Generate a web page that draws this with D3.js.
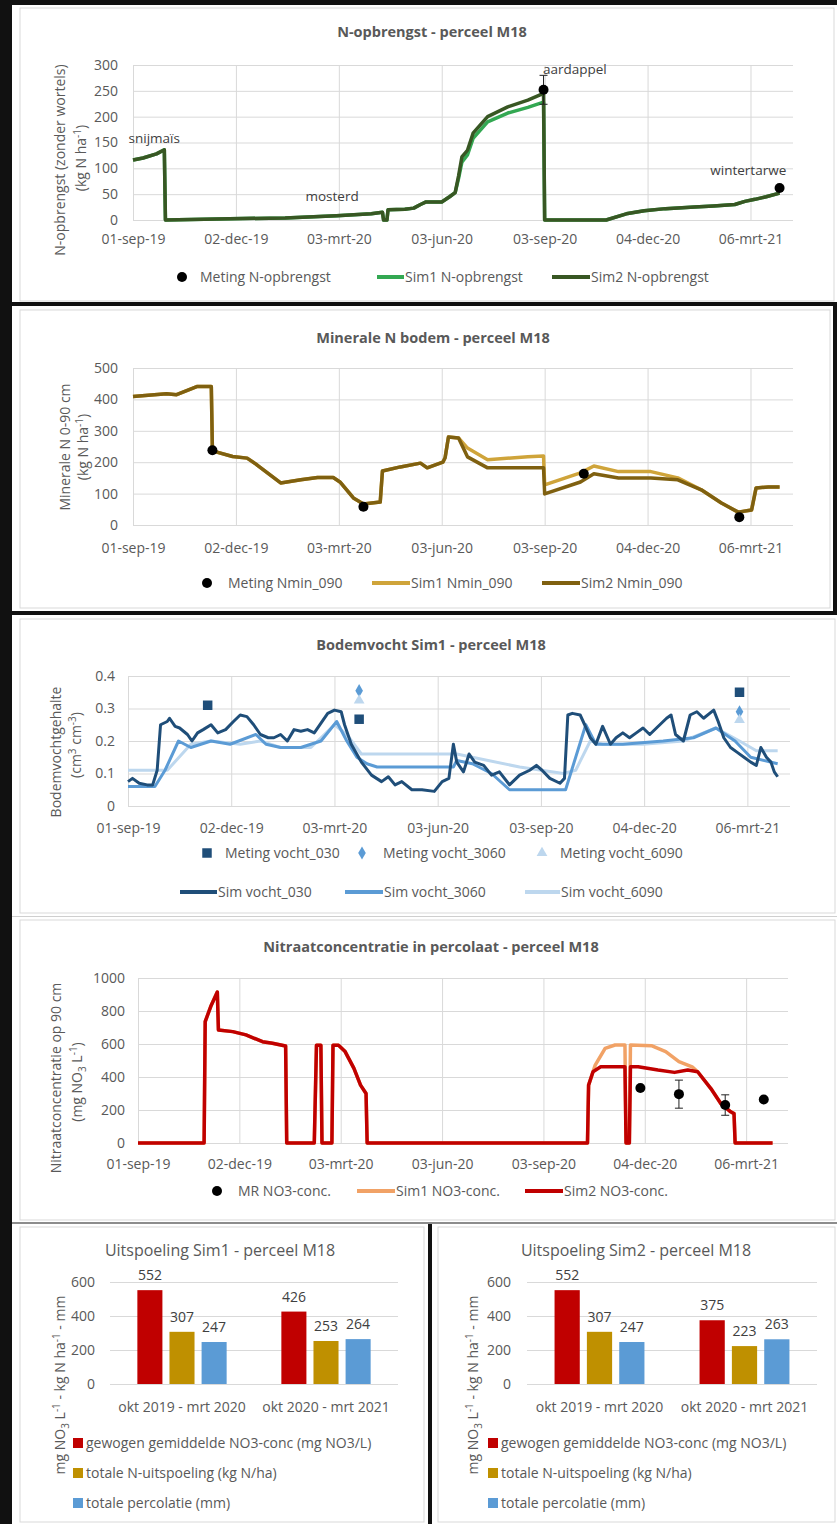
<!DOCTYPE html>
<meta charset="utf-8">
<head>
	<title>Perceel M18 - N-opbrengst, Nmin, bodemvocht, nitraat, uitspoeling</title>
</head>

<style>

body{
	margin: 0;
	background-color: #fff;
}

svg{
	display: block;
	font-family: "Open Sans", "Noto Sans", sans-serif;
}

.grid line{
	stroke: #d9d9d9;
	stroke-width: 1;
}

.grid text, .lbl{
	fill: #595959;
	font-size: 14px;
}

.title{
	fill: #595959;
	font-size: 14.5px;
	font-weight: bold;
}

.btitle{
	fill: #595959;
	font-size: 16px;
}

.note{
	fill: #404040;
	font-size: 13.5px;
}

</style>

<body>

<svg id="chart" width="837" height="1524"></svg>

<script src="https://cdnjs.cloudflare.com/ajax/libs/d3/7.8.5/d3.min.js"></script>
<script>

// ---- gemeenschappelijke datum-as ----
var monthsNL = ['jan', 'feb', 'mrt', 'apr', 'mei', 'jun', 'jul', 'aug', 'sep', 'okt', 'nov', 'dec'];
var dateTicks = ['2019-09-01', '2019-12-02', '2020-03-03', '2020-06-03', '2020-09-03', '2020-12-04', '2021-03-06'];
var dateStart = '2019-09-01';
var dateEnd = '2021-04-13';

// ---- N-opbrengst ----
var nOpbrSim1 = [
	['2019-09-01',116],['2019-09-10',120],['2019-09-22',128],['2019-09-29',136],['2019-09-30',0],['2019-11-15',2],
	['2020-01-15',4],['2020-03-01',8],['2020-04-01',12],['2020-04-11',15],['2020-04-12',0],['2020-04-15',0],
	['2020-04-16',20],['2020-05-01',21],['2020-05-09',23],['2020-05-15',30],['2020-05-20',35],['2020-06-03',35],
	['2020-06-10',45],['2020-06-15',53],['2020-06-18',80],['2020-06-21',112],['2020-06-26',126],['2020-07-01',158],
	['2020-07-14',190],['2020-08-01',207],['2020-08-19',218],['2020-09-02',228],['2020-09-03',0],['2020-10-28',0],
	['2020-11-15',12],['2020-12-01',18],['2020-12-20',22],['2021-01-15',25],['2021-02-01',27],['2021-02-20',30],
	['2021-03-01',36],['2021-03-10',40],['2021-03-20',45],['2021-04-01',52]
];
var nOpbrSim2 = [
	['2019-09-01',116],['2019-09-10',120],['2019-09-22',128],['2019-09-29',136],['2019-09-30',0],['2019-11-15',2],
	['2020-01-15',4],['2020-03-01',8],['2020-04-01',12],['2020-04-11',15],['2020-04-12',0],['2020-04-15',0],
	['2020-04-16',20],['2020-05-01',21],['2020-05-09',23],['2020-05-15',30],['2020-05-20',35],['2020-06-03',35],
	['2020-06-10',45],['2020-06-15',53],['2020-06-18',85],['2020-06-21',122],['2020-06-26',135],['2020-07-01',168],
	['2020-07-14',200],['2020-08-01',219],['2020-08-19',232],['2020-09-02',245],['2020-09-03',0],['2020-10-28',0],
	['2020-11-15',12],['2020-12-01',18],['2020-12-20',22],['2021-01-15',25],['2021-02-01',27],['2021-02-20',30],
	['2021-03-01',36],['2021-03-10',40],['2021-03-20',45],['2021-04-01',52]
];
// [datum, waarde, foutmarge]
var nOpbrMeting = [['2020-09-02',252,28], ['2021-04-01',62,0]];
var gewassen = [['snijmaïs','2019-09-20',150], ['mosterd','2020-02-26',36], ['aardappel','2020-09-30',283], ['wintertarwe','2021-03-04',88]];

// ---- Minerale N bodem ----
var nminSim1 = [
	['2019-09-01',409],['2019-10-01',418],['2019-10-10',415],['2019-10-28',441],['2019-11-10',441],['2019-11-11',236],
	['2019-11-29',218],['2019-12-12',213],['2019-12-21',191],['2020-01-11',134],['2020-01-29',144],['2020-02-13',151],
	['2020-02-27',151],['2020-03-04',137],['2020-03-16',86],['2020-03-25',67],['2020-04-09',73],['2020-04-11',172],
	['2020-04-27',185],['2020-05-15',197],['2020-05-21',182],['2020-06-04',200],['2020-06-06',214],['2020-06-09',280],
	['2020-06-18',277],['2020-06-26',245],['2020-07-14',208],['2020-08-19',217],['2020-09-02',220],['2020-09-03',128],
	['2020-10-05',166],['2020-10-17',188],['2020-11-08',170],['2020-12-07',170],['2020-12-31',150],['2021-01-21',112],
	['2021-02-08',70],['2021-02-23',41],['2021-03-07',48],['2021-03-11',118],['2021-03-22',121],['2021-04-01',121]
];
var nminSim2 = [
	['2019-09-01',409],['2019-10-01',418],['2019-10-10',415],['2019-10-28',441],['2019-11-10',441],['2019-11-11',236],
	['2019-11-29',218],['2019-12-12',213],['2019-12-21',191],['2020-01-11',134],['2020-01-29',144],['2020-02-13',151],
	['2020-02-27',151],['2020-03-04',137],['2020-03-16',86],['2020-03-25',67],['2020-04-09',73],['2020-04-11',172],
	['2020-04-27',185],['2020-05-15',197],['2020-05-21',182],['2020-06-04',200],['2020-06-06',214],['2020-06-09',280],
	['2020-06-18',277],['2020-06-26',217],['2020-07-14',182],['2020-08-19',182],['2020-09-02',182],['2020-09-03',99],
	['2020-10-05',137],['2020-10-17',163],['2020-11-08',150],['2020-12-07',150],['2020-12-31',144],['2021-01-21',112],
	['2021-02-08',70],['2021-02-23',41],['2021-03-07',48],['2021-03-11',118],['2021-03-22',121],['2021-04-01',121]
];
var nminMeting = [['2019-11-11',238,0], ['2020-03-25',58,0], ['2020-10-08',163,0], ['2021-02-24',25,0]];

// ---- Bodemvocht Sim1 ----
var vocht030 = [
	['2019-09-01',0.075],['2019-09-05',0.085],['2019-09-11',0.07],['2019-09-18',0.065],['2019-09-23',0.065],['2019-09-27',0.11],
	['2019-09-30',0.25],['2019-10-06',0.26],['2019-10-08',0.27],['2019-10-13',0.245],['2019-10-17',0.24],['2019-10-24',0.22],
	['2019-10-28',0.2],['2019-11-02',0.225],['2019-11-07',0.235],['2019-11-14',0.25],['2019-11-20',0.225],['2019-11-27',0.235],
	['2019-12-04',0.26],['2019-12-10',0.28],['2019-12-16',0.275],['2019-12-22',0.25],['2019-12-28',0.22],['2020-01-04',0.21],
	['2020-01-09',0.21],['2020-01-15',0.22],['2020-01-21',0.2],['2020-01-27',0.235],['2020-02-02',0.23],['2020-02-08',0.235],
	['2020-02-14',0.225],['2020-02-20',0.255],['2020-02-26',0.285],['2020-03-03',0.295],['2020-03-09',0.29],['2020-03-12',0.25],
	['2020-03-18',0.19],['2020-03-27',0.135],['2020-04-05',0.095],['2020-04-14',0.075],['2020-04-20',0.09],['2020-04-26',0.065],
	['2020-05-02',0.075],['2020-05-11',0.05],['2020-05-20',0.05],['2020-05-31',0.045],['2020-06-07',0.075],['2020-06-13',0.085],
	['2020-06-17',0.19],['2020-06-20',0.135],['2020-06-26',0.105],['2020-07-01',0.16],['2020-07-06',0.135],['2020-07-14',0.125],
	['2020-07-21',0.095],['2020-07-28',0.105],['2020-08-06',0.065],['2020-08-15',0.095],['2020-08-24',0.11],['2020-08-30',0.125],
	['2020-09-04',0.11],['2020-09-11',0.085],['2020-09-20',0.07],['2020-09-24',0.085],['2020-09-27',0.28],['2020-10-01',0.285],
	['2020-10-08',0.28],['2020-10-12',0.25],['2020-10-17',0.21],['2020-10-22',0.19],['2020-10-28',0.245],['2020-11-04',0.19],
	['2020-11-09',0.21],['2020-11-15',0.225],['2020-11-21',0.21],['2020-11-27',0.225],['2020-12-03',0.24],['2020-12-09',0.22],
	['2020-12-15',0.24],['2020-12-24',0.27],['2020-12-28',0.28],['2021-01-01',0.22],['2021-01-08',0.2],['2021-01-14',0.28],
	['2021-01-20',0.29],['2021-01-26',0.27],['2021-02-04',0.295],['2021-02-08',0.26],['2021-02-13',0.21],['2021-02-19',0.18],
	['2021-02-25',0.165],['2021-03-03',0.15],['2021-03-09',0.135],['2021-03-14',0.125],['2021-03-18',0.18],['2021-03-23',0.15],
	['2021-03-27',0.135],['2021-03-30',0.105],['2021-04-02',0.09]
];
var vocht3060 = [
	['2019-09-01',0.06],['2019-09-25',0.06],['2019-10-04',0.11],['2019-10-16',0.2],['2019-10-27',0.18],['2019-11-14',0.2],
	['2019-12-01',0.19],['2019-12-24',0.22],['2020-01-02',0.19],['2020-01-15',0.18],['2020-02-02',0.18],['2020-02-20',0.2],
	['2020-03-05',0.26],['2020-03-14',0.2],['2020-03-23',0.15],['2020-04-01',0.13],['2020-04-10',0.12],['2020-06-17',0.12],
	['2020-06-20',0.14],['2020-07-04',0.13],['2020-07-21',0.1],['2020-08-06',0.05],['2020-09-25',0.05],['2020-10-13',0.25],
	['2020-10-22',0.19],['2020-11-15',0.19],['2020-12-21',0.2],['2021-01-17',0.21],['2021-02-06',0.24],['2021-02-23',0.2],
	['2021-03-09',0.15],['2021-04-02',0.13]
];
var vocht6090 = [
	['2019-09-01',0.11],['2019-10-06',0.11],['2019-10-27',0.19],['2019-11-14',0.2],['2019-12-10',0.19],['2019-12-28',0.2],
	['2020-01-15',0.18],['2020-02-11',0.18],['2020-03-03',0.25],['2020-03-14',0.22],['2020-03-27',0.16],['2020-06-20',0.16],
	['2020-08-15',0.12],['2020-09-23',0.1],['2020-10-04',0.11],['2020-10-17',0.2],['2020-10-28',0.19],['2020-12-03',0.19],
	['2021-01-08',0.2],['2021-02-06',0.24],['2021-02-27',0.2],['2021-03-14',0.17],['2021-04-02',0.17]
];
var vochtMeting030 = [['2019-11-11',0.31,0], ['2020-03-25',0.267,0], ['2021-02-27',0.35,0]];
var vochtMeting3060 = [['2020-03-25',0.355,0], ['2021-02-27',0.29,0]];
var vochtMeting6090 = [['2020-03-25',0.325,0], ['2021-02-27',0.265,0]];

// ---- Nitraatconcentratie ----
var no3Sim1 = [
	['2019-09-01',0],['2019-10-31',0],['2019-11-01',736],['2019-11-06',827],['2019-11-12',915],['2019-11-13',685],
	['2019-11-26',675],['2019-12-08',655],['2019-12-23',614],['2020-01-01',604],['2020-01-13',588],['2020-01-14',0],
	['2020-02-08',0],['2020-02-10',592],['2020-02-14',592],['2020-02-15',0],['2020-02-24',0],['2020-02-25',592],
	['2020-03-01',592],['2020-03-07',554],['2020-03-15',452],['2020-03-21',351],['2020-03-26',300],['2020-03-27',0],
	['2020-10-13',0],['2020-10-14',351],['2020-10-20',472],['2020-10-29',574],['2020-11-07',594],['2020-11-16',594],
	['2020-11-17',0],['2020-11-20',0],['2020-11-21',594],['2020-12-10',590],['2020-12-23',554],['2021-01-04',493],
	['2021-01-16',462],['2021-01-21',432],['2021-02-02',330],['2021-02-11',239],['2021-02-20',189],['2021-02-23',178],
	['2021-02-24',0],['2021-03-30',0]
];
var no3Sim2 = [
	['2019-09-01',0],['2019-10-31',0],['2019-11-01',736],['2019-11-06',827],['2019-11-12',915],['2019-11-13',685],
	['2019-11-26',675],['2019-12-08',655],['2019-12-23',614],['2020-01-01',604],['2020-01-13',588],['2020-01-14',0],
	['2020-02-08',0],['2020-02-10',592],['2020-02-14',592],['2020-02-15',0],['2020-02-24',0],['2020-02-25',592],
	['2020-03-01',592],['2020-03-07',554],['2020-03-15',452],['2020-03-21',351],['2020-03-26',300],['2020-03-27',0],
	['2020-10-13',0],['2020-10-14',351],['2020-10-18',432],['2020-10-25',462],['2020-11-16',462],['2020-11-17',0],
	['2020-11-20',0],['2020-11-21',462],['2020-11-28',462],['2020-12-16',442],['2020-12-31',428],['2021-01-12',442],
	['2021-01-21',432],['2021-02-02',330],['2021-02-11',239],['2021-02-20',189],['2021-02-23',178],['2021-02-24',0],
	['2021-03-30',0]
];
var no3Meting = [['2020-11-30',333,0], ['2021-01-04',296,85], ['2021-02-15',230,62], ['2021-03-22',264,0]];

// ---- Uitspoeling ----
var barCategories = ['okt 2019 - mrt 2020', 'okt 2020 - mrt 2021'];
var barSeries = ['gewogen gemiddelde NO3-conc (mg NO3/L)', 'totale N-uitspoeling (kg N/ha)', 'totale percolatie (mm)'];
var sim1Conc = [552, 426];
var sim1Uitsp = [307, 253];
var sim1Perc = [247, 264];
var sim2Conc = [552, 375];
var sim2Uitsp = [307, 223];
var sim2Perc = [247, 263];


var parseDate = d3.timeParse('%Y-%m-%d');
var svg = d3.select('#chart');

function fmtDate(d){
	return d3.timeFormat('%d')(d) + '-' + monthsNL[d.getMonth()] + '-' + d3.timeFormat('%y')(d);
}

// tekst met sub/superscript: parts = [[tekst, 'sup'|'sub'|null], ...]
function richText(el, parts){
	var shift = 0;
	parts.forEach(function(p){
		var want = p[1] === 'sup' ? -5 : (p[1] === 'sub' ? 4 : 0);
		var t = el.append('tspan').attr('dy', want - shift).text(p[0]);
		if (want) t.style('font-size', '10px');
		shift = want;
	});
}

function axisTitle(x, y, parts){
	var t = svg.append('text').attr('class', 'lbl')
		.attr('text-anchor', 'middle')
		.attr('transform', 'translate(' + x + ',' + y + ') rotate(-90)');
	richText(t, parts);
}

// ---- achtergrond en kaders ----
svg.append('rect').attr('width', 837).attr('height', 1524).attr('fill', '#fff');
[[20,8,814,293], [20,310,810,298], [20,619,815,294], [20,920,815,300], [20,1227,404,295], [438,1227,397,295]].forEach(function(r){
	svg.append('rect').attr('x', r[0]).attr('y', r[1]).attr('width', r[2]).attr('height', r[3])
		.attr('fill', '#fff').attr('stroke', '#d9d9d9');
});
[[0,0,837,5], [0,0,12,1524], [12,302,825,4], [833,302,4,312], [12,611,825,4], [428,1224,4,300]].forEach(function(r){
	svg.append('rect').attr('x', r[0]).attr('y', r[1]).attr('width', r[2]).attr('height', r[3]).attr('fill', '#111');
});
svg.append('rect').attr('x', 12).attr('y', 916).attr('width', 825).attr('height', 1).attr('fill', '#cfcfcf');
svg.append('rect').attr('x', 12).attr('y', 1222).attr('width', 825).attr('height', 2).attr('fill', '#8c8c8c');


function drawMarker(g, type, cx, cy, color){
	if (type === 'dot') {
		g.append('circle').attr('cx', cx).attr('cy', cy).attr('r', 5).attr('fill', color);
		return;
	}
	var sym = {square: d3.symbolSquare, diamond: d3.symbolDiamond, triangle: d3.symbolTriangle}[type];
	var size = {square: 90, diamond: 50, triangle: 50}[type];
	g.append('path').attr('d', d3.symbol().type(sym).size(size)())
		.attr('transform', 'translate(' + cx + ',' + cy + ')').attr('fill', color);
}

function drawTimePanel(p){
	var x = d3.scaleTime().domain([parseDate(dateStart), parseDate(dateEnd)]).range([p.left, p.right]);
	var y = d3.scaleLinear().domain(p.yDomain).range([p.bottom, p.top]);
	var g = svg.append('g');

	g.append('g').attr('class', 'grid')
		.attr('transform', 'translate(' + p.left + ',0)')
		.call(d3.axisLeft(y).tickValues(p.yTicks).tickSize(-(p.right - p.left)).tickPadding(p.left - p.yLabelX)
			.tickFormat(p.yFormat || d3.format('d')))
		.call(function(a){ a.select('.domain').remove(); a.attr('font-family', null).attr('font-size', null); });

	g.append('g').attr('class', 'grid')
		.attr('transform', 'translate(0,' + p.bottom + ')')
		.call(d3.axisBottom(x).tickValues(dateTicks.map(parseDate)).tickSize(-(p.bottom - p.top)).tickFormat(fmtDate))
		.call(function(a){
			a.select('.domain').remove();
			a.attr('font-family', null).attr('font-size', null);
			a.selectAll('text').attr('y', p.xLabelY - p.bottom).attr('dy', '0.35em');
		});

	var line = d3.line()
		.x(function(d){ return x(parseDate(d[0])); })
		.y(function(d){ return y(d[1]); });

	p.series.forEach(function(s){
		g.append('path').datum(s.data)
			.attr('fill', 'none')
			.attr('stroke', s.color)
			.attr('stroke-width', s.width || 3.5)
			.attr('stroke-linejoin', 'round')
			.attr('d', line);
	});

	(p.points || []).forEach(function(m){
		m.data.forEach(function(d){
			var cx = x(parseDate(d[0])), cy = y(d[1]);
			if (d[2]) {
				var y1 = y(d[1] + d[2]), y2 = y(d[1] - d[2]);
				g.append('line').attr('x1', cx).attr('x2', cx).attr('y1', y1).attr('y2', y2).attr('stroke', '#222').attr('stroke-width', 1);
				g.append('line').attr('x1', cx - 4).attr('x2', cx + 4).attr('y1', y1).attr('y2', y1).attr('stroke', '#222').attr('stroke-width', 1);
				g.append('line').attr('x1', cx - 4).attr('x2', cx + 4).attr('y1', y2).attr('y2', y2).attr('stroke', '#222').attr('stroke-width', 1);
			}
			drawMarker(g, m.type, cx, cy, m.color);
		});
	});

	(p.notes || []).forEach(function(n){
		g.append('text').attr('class', 'note')
			.attr('x', x(parseDate(n[1]))).attr('y', y(n[2]))
			.attr('text-anchor', 'middle')
			.text(n[0]);
	});

	svg.append('text').attr('class', 'title')
		.attr('x', p.titleX).attr('y', p.titleY).attr('text-anchor', 'middle').attr('dy', '0.35em')
		.text(p.title);

	p.yTitle.forEach(function(t){ axisTitle(t.x, t.y, t.parts); });

	p.legend.forEach(function(it){
		if (it.type === 'line') {
			svg.append('line').attr('x1', it.x1).attr('x2', it.x2).attr('y1', it.y).attr('y2', it.y)
				.attr('stroke', it.color).attr('stroke-width', 4);
		} else {
			drawMarker(svg, it.type, it.x1, it.y, it.color);
		}
		svg.append('text').attr('class', 'lbl').attr('x', it.tx).attr('y', it.y).attr('dy', '0.35em').text(it.text);
	});
}

// 1. N-opbrengst
drawTimePanel({
	left: 133, right: 793, top: 65, bottom: 220,
	yDomain: [0, 300], yTicks: [0, 50, 100, 150, 200, 250, 300], yLabelX: 118, xLabelY: 239,
	title: 'N-opbrengst - perceel M18', titleX: 432, titleY: 32,
	yTitle: [
		{x: 65, y: 160, parts: [['N-opbrengst (zonder wortels)']]},
		{x: 86, y: 158, parts: [['(kg N ha'], ['-1', 'sup'], [')']]}
	],
	series: [
		{data: nOpbrSim1, color: '#33a852'},
		{data: nOpbrSim2, color: '#385723'}
	],
	points: [{data: nOpbrMeting, type: 'dot', color: '#000'}],
	notes: gewassen,
	legend: [
		{type: 'dot', x1: 182, y: 277, color: '#000', tx: 200, text: 'Meting N-opbrengst'},
		{type: 'line', x1: 377, x2: 404, y: 277, color: '#33a852', tx: 405, text: 'Sim1 N-opbrengst'},
		{type: 'line', x1: 552, x2: 590, y: 277, color: '#385723', tx: 591, text: 'Sim2 N-opbrengst'}
	]
});

// 2. Minerale N bodem
drawTimePanel({
	left: 133, right: 793, top: 368, bottom: 525,
	yDomain: [0, 500], yTicks: [0, 100, 200, 300, 400, 500], yLabelX: 118, xLabelY: 548,
	title: 'Minerale N bodem - perceel M18', titleX: 433, titleY: 338,
	yTitle: [
		{x: 70, y: 447, parts: [['Minerale N 0-90 cm']]},
		{x: 88, y: 447, parts: [['(kg N ha'], ['-1', 'sup'], [')']]}
	],
	series: [
		{data: nminSim1, color: '#cfa43a'},
		{data: nminSim2, color: '#7f6010'}
	],
	points: [{data: nminMeting, type: 'dot', color: '#000'}],
	legend: [
		{type: 'dot', x1: 207, y: 583, color: '#000', tx: 228, text: 'Meting Nmin_090'},
		{type: 'line', x1: 372, x2: 410, y: 583, color: '#cfa43a', tx: 411, text: 'Sim1 Nmin_090'},
		{type: 'line', x1: 542, x2: 580, y: 583, color: '#7f6010', tx: 581, text: 'Sim2 Nmin_090'}
	]
});

// 3. Bodemvocht Sim1
drawTimePanel({
	left: 128, right: 790, top: 676, bottom: 806,
	yDomain: [0, 0.4], yTicks: [0, 0.1, 0.2, 0.3, 0.4], yLabelX: 115, xLabelY: 828,
	yFormat: function(d){ return d === 0 ? '0' : d3.format('.1f')(d); },
	title: 'Bodemvocht Sim1 - perceel M18', titleX: 431, titleY: 645,
	yTitle: [
		{x: 61, y: 752, parts: [['Bodemvochtgehalte']]},
		{x: 81, y: 745, parts: [['(cm'], ['3', 'sup'], [' cm'], ['-3', 'sup'], [')']]}
	],
	series: [
		{data: vocht6090, color: '#bdd7ee', width: 3},
		{data: vocht3060, color: '#5b9bd5', width: 3},
		{data: vocht030, color: '#1f4e79', width: 3}
	],
	points: [
		{data: vochtMeting030, type: 'square', color: '#1f4e79'},
		{data: vochtMeting3060, type: 'diamond', color: '#5b9bd5'},
		{data: vochtMeting6090, type: 'triangle', color: '#bdd7ee'}
	],
	legend: [
		{type: 'square', x1: 207, y: 853, color: '#1f4e79', tx: 225, text: 'Meting vocht_030'},
		{type: 'diamond', x1: 362, y: 853, color: '#5b9bd5', tx: 383, text: 'Meting vocht_3060'},
		{type: 'triangle', x1: 542, y: 853, color: '#bdd7ee', tx: 560, text: 'Meting vocht_6090'},
		{type: 'line', x1: 180, x2: 217, y: 892, color: '#1f4e79', tx: 218, text: 'Sim vocht_030'},
		{type: 'line', x1: 345, x2: 383, y: 892, color: '#5b9bd5', tx: 384, text: 'Sim vocht_3060'},
		{type: 'line', x1: 525, x2: 560, y: 892, color: '#bdd7ee', tx: 561, text: 'Sim vocht_6090'}
	]
});

// 4. Nitraatconcentratie
drawTimePanel({
	left: 138, right: 788, top: 978, bottom: 1143,
	yDomain: [0, 1000], yTicks: [0, 200, 400, 600, 800, 1000], yLabelX: 125, xLabelY: 1164,
	title: 'Nitraatconcentratie in percolaat - perceel M18', titleX: 431, titleY: 947,
	yTitle: [
		{x: 61, y: 1078, parts: [['Nitraatconcentratie op 90 cm']]},
		{x: 82, y: 1082, parts: [['(mg NO'], ['3', 'sub'], [' L'], ['-1', 'sup'], [')']]}
	],
	series: [
		{data: no3Sim1, color: '#f1a266'},
		{data: no3Sim2, color: '#c00000'}
	],
	points: [{data: no3Meting, type: 'dot', color: '#000'}],
	legend: [
		{type: 'dot', x1: 217, y: 1191, color: '#000', tx: 238, text: 'MR NO3-conc.'},
		{type: 'line', x1: 357, x2: 395, y: 1191, color: '#f1a266', tx: 396, text: 'Sim1 NO3-conc.'},
		{type: 'line', x1: 525, x2: 563, y: 1191, color: '#c00000', tx: 564, text: 'Sim2 NO3-conc.'}
	]
});


// 5/6. Uitspoeling staafdiagrammen
var barColors = ['#c00000', '#bf9000', '#5b9bd5'];

function drawBarPanel(p){
	var x0 = d3.scaleBand().domain(barCategories).range([p.left, p.right]).paddingInner(0.38).paddingOuter(0.19);
	var x1 = d3.scaleBand().domain(barSeries).range([0, x0.bandwidth()]).paddingInner(0.22);
	var y = d3.scaleLinear().domain([0, 600]).range([1384, 1282]);
	var g = svg.append('g');

	g.append('g').attr('class', 'grid')
		.attr('transform', 'translate(' + p.left + ',0)')
		.call(d3.axisLeft(y).tickValues([0, 200, 400, 600]).tickSize(-(p.right - p.left)).tickPadding(p.left - p.yLabelX))
		.call(function(a){ a.select('.domain').remove(); a.attr('font-family', null).attr('font-size', null); });

	g.append('g').attr('class', 'grid')
		.attr('transform', 'translate(0,1384)')
		.call(d3.axisBottom(x0).tickSize(0))
		.call(function(a){
			a.select('.domain').remove();
			a.attr('font-family', null).attr('font-size', null);
			a.selectAll('text').attr('y', 23).attr('dy', '0.35em');
		});

	p.values.forEach(function(vals, i){
		var s = barSeries[i];
		g.selectAll(null).data(vals).enter()
			.append('rect')
			.attr('x', function(d, j){ return x0(barCategories[j]) + x1(s); })
			.attr('y', function(d){ return y(d); })
			.attr('width', x1.bandwidth())
			.attr('height', function(d){ return y(0) - y(d); })
			.attr('fill', barColors[i]);
		g.selectAll(null).data(vals).enter()
			.append('text').attr('class', 'note')
			.style('font-size', '14px')
			.attr('x', function(d, j){ return x0(barCategories[j]) + x1(s) + x1.bandwidth() / 2; })
			.attr('y', function(d){ return y(d) - 10; })
			.attr('text-anchor', 'middle')
			.text(function(d){ return d; });
	});

	svg.append('text').attr('class', 'btitle')
		.attr('x', p.titleX).attr('y', 1250).attr('dy', '0.35em').attr('text-anchor', 'middle')
		.text(p.title);

	axisTitle(p.yTitleX, 1385, [['mg NO'], ['3', 'sub'], [' L'], ['-1', 'sup'], [' - kg N ha'], ['-1', 'sup'], [' - mm']]);

	barSeries.forEach(function(s, i){
		var ly = 1443 + i * 30;
		svg.append('rect').attr('x', p.legendX).attr('y', ly - 5).attr('width', 10).attr('height', 10).attr('fill', barColors[i]);
		svg.append('text').attr('class', 'lbl').attr('x', p.legendX + 13).attr('y', ly).attr('dy', '0.35em').text(s);
	});
}

drawBarPanel({
	left: 110, right: 398, yLabelX: 95, titleX: 220, yTitleX: 65, legendX: 73,
	title: 'Uitspoeling Sim1 - perceel M18',
	values: [sim1Conc, sim1Uitsp, sim1Perc]
});

drawBarPanel({
	left: 527, right: 817, yLabelX: 511, titleX: 636, yTitleX: 478, legendX: 488,
	title: 'Uitspoeling Sim2 - perceel M18',
	values: [sim2Conc, sim2Uitsp, sim2Perc]
});

</script>

</body>
</html>
